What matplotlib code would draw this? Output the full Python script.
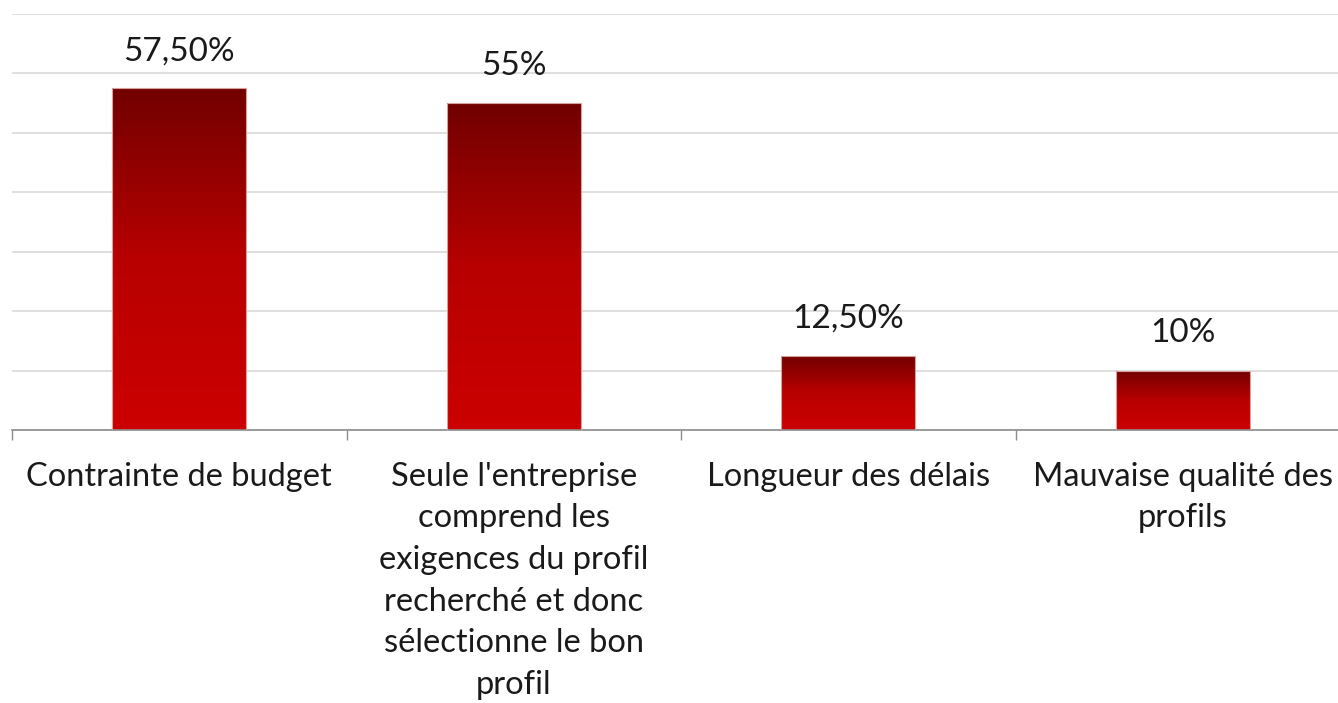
import numpy as np
import matplotlib
matplotlib.use("Agg")
import matplotlib.pyplot as plt
from matplotlib.colors import LinearSegmentedColormap
from matplotlib.ticker import MultipleLocator, FixedLocator

categories = [
    "Contrainte de budget",
    "Seule l'entreprise\ncomprend les\nexigences du profil\nrecherché et donc\nsélectionne le bon\nprofil",
    "Longueur des délais",
    "Mauvaise qualité des\nprofils",
]
values = [57.5, 55.0, 12.5, 10.0]
value_labels = ["57,50%", "55%", "12,50%", "10%"]

plt.rcParams['font.family'] = ['Lato', 'DejaVu Sans']
TEXT = '#1a1a1a'

W, H = 1338, 703
fig = plt.figure(figsize=(W / 100, H / 100), dpi=100)
ax = fig.add_axes([12 / W, (H - 430) / H, (1350 - 12) / W, (430 - 14) / H])

x = np.arange(len(categories))
bars = ax.bar(x, values, width=0.4, color='none', edgecolor='#d9a0a0', linewidth=0.8, zorder=3)

cmap = LinearSegmentedColormap.from_list('red', ['#cc0000', '#b80000', '#720000'])
grad = np.linspace(0, 1, 256).reshape(-1, 1)
for b in bars:
    x0, y0 = b.get_x(), b.get_y()
    im = ax.imshow(grad, cmap=cmap, aspect='auto', origin='lower',
                   extent=(x0, x0 + b.get_width(), y0, y0 + b.get_height()), zorder=2)
    im.set_clip_path(b)

for xi, v, lab in zip(x, values, value_labels):
    ax.annotate(lab, (xi, v), xytext=(0, 16), textcoords='offset points',
                ha='center', va='bottom', fontsize=24, color=TEXT)

ax.set_xlim(-0.5, len(categories) - 0.5)
ax.set_ylim(0, 70)
ax.yaxis.set_major_locator(MultipleLocator(10))
ax.yaxis.grid(True, color='#d9d9d9', linewidth=1.2, zorder=0)
ax.set_axisbelow(True)
ax.tick_params(axis='y', left=False, labelleft=False)

ax.set_xticks(x)
ax.set_xticklabels(categories, fontsize=23.5, color=TEXT, linespacing=1.48)
ax.xaxis.set_minor_locator(FixedLocator(np.arange(-0.5, len(categories), 1.0)))
ax.tick_params(axis='x', which='major', length=0, pad=23)
ax.tick_params(axis='x', which='minor', length=7, color='#8c8c8c', width=1)

for s in ['top', 'right', 'left']:
    ax.spines[s].set_visible(False)
ax.spines['bottom'].set_color('#8c8c8c')
ax.spines['bottom'].set_linewidth(1.2)

fig.savefig('out.png', dpi=100)
